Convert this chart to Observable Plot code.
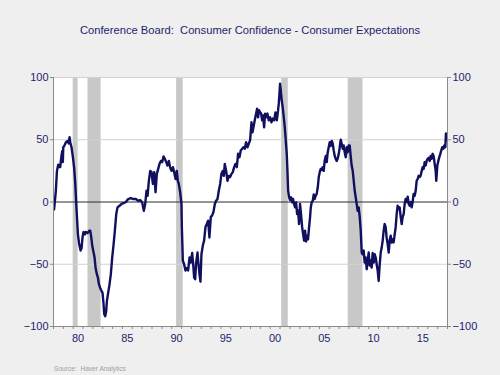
<!DOCTYPE html>
<html>
<head>
<meta charset="utf-8">
<script src="https://cdn.jsdelivr.net/npm/d3@7"></script>
<script src="https://cdn.jsdelivr.net/npm/@observablehq/plot@0.6"></script>
<style>
  html, body { margin: 0; padding: 0; background: #efefef; }
  #wrap { width: 500px; height: 375px; background: #efefef; font-family: "Liberation Sans", Arial, sans-serif; overflow: hidden; }
  #title { height: 60px; line-height: 60px; text-align: center; font-size: 11.2px; color: #1e1e6e; white-space: pre; }
  #chart { height: 295px; }
  #src { height: 20px; line-height: 28px; padding-left: 54px; font-size: 6.6px; color: #a0a0a0; white-space: pre; }
</style>
</head>
<body>
<div id="wrap">
  <div id="title">Conference Board:  Consumer Confidence - Consumer Expectations</div>
  <div id="chart"></div>
  <div id="src">Source:  Haver Analytics</div>
</div>
<script>
// Monthly series (decimal years)
const years = [
  1978.06,1978.24,1978.35,1978.48,1978.58,1978.68,1978.79,1978.89,1978.95,1978.99,
  1979.09,1979.26,1979.43,1979.55,1979.63,1979.70,1979.83,1979.97,1980.10,1980.21,
  1980.31,1980.38,1980.48,1980.61,1980.75,1980.85,1980.95,1981.05,1981.19,1981.29,
  1981.46,1981.63,1981.73,1981.83,1981.93,1982.07,1982.17,1982.27,1982.40,1982.51,
  1982.61,1982.74,1982.88,1982.98,1983.08,1983.15,1983.25,1983.35,1983.42,1983.55,
  1983.69,1983.82,1983.96,1984.10,1984.23,1984.37,1984.50,1984.70,1984.91,1985.11,
  1985.35,1985.58,1985.85,1986.12,1986.36,1986.60,1986.80,1987.00,1987.17,1987.31,
  1987.44,1987.55,1987.68,1987.82,1987.95,1988.09,1988.22,1988.36,1988.49,1988.63,
  1988.76,1988.90,1989.03,1989.17,1989.30,1989.44,1989.57,1989.71,1989.85,1989.98,
  1990.12,1990.25,1990.39,1990.52,1990.62,1990.72,1990.86,1990.99,
  1991.03,1991.13,1991.26,1991.40,1991.54,1991.67,1991.81,1991.94,1992.08,1992.18,
  1992.28,1992.38,1992.48,1992.62,1992.72,1992.82,1992.92,1993.02,1993.16,1993.29,
  1993.43,1993.56,1993.70,1993.83,1993.97,1994.10,1994.24,1994.38,1994.51,1994.65,
  1994.78,1994.92,1995.05,1995.19,1995.29,1995.39,1995.53,1995.66,1995.80,1995.93,
  1996.07,1996.20,1996.34,1996.47,1996.61,1996.74,1996.88,1997.01,1997.15,1997.28,
  1997.42,1997.55,1997.69,1997.82,1997.96,1998.10,1998.20,1998.30,1998.43,1998.57,
  1998.67,1998.77,1998.87,1998.97,1999.08,1999.18,1999.28,1999.38,1999.48,1999.58,
  1999.72,1999.85,1999.99,2000.12,2000.26,2000.40,2000.53,2000.67,2000.80,2000.87,
  2000.94,2001.00,2001.07,2001.17,2001.27,2001.38,2001.48,2001.58,2001.68,2001.75,
  2001.82,2001.92,2002.02,2002.12,2002.22,2002.32,2002.42,2002.53,2002.63,2002.73,
  2002.83,2002.93,2003.03,2003.13,2003.24,2003.34,2003.44,2003.54,2003.64,2003.74,
  2003.84,2003.95,2004.05,
  2004.12,2004.22,2004.32,2004.42,2004.52,2004.62,2004.72,2004.83,2004.93,2005.03,
  2005.13,2005.23,2005.33,2005.43,2005.53,2005.64,2005.74,2005.84,2005.94,2006.04,
  2006.14,2006.25,2006.35,2006.45,2006.55,2006.65,2006.75,2006.85,2006.96,2007.06,
  2007.16,2007.26,2007.36,2007.46,2007.56,2007.67,2007.77,2007.87,2007.97,2008.07,
  2008.17,2008.27,2008.38,2008.48,2008.58,2008.68,2008.78,2008.88,2008.98,2009.09,
  2009.19,2009.29,2009.39,2009.49,2009.59,2009.69,2009.80,2009.90,2010.00,2010.10,
  2010.20,2010.30,2010.40,2010.51,2010.61,2010.71,2010.81,2010.91,2011.01,2011.12,
  2011.22,2011.32,2011.42,2011.52,2011.62,2011.72,2011.82,2011.93,2012.03,2012.13,
  2012.23,2012.33,2012.43,2012.53,2012.64,2012.74,2012.84,2012.94,2013.04,2013.14,
  2013.25,2013.35,2013.45,2013.55,2013.65,2013.75,2013.85,2013.96,2014.06,2014.16,
  2014.26,2014.36,2014.46,2014.56,2014.67,2014.77,2014.87,2014.97,2015.07,2015.17,
  2015.27,2015.38,2015.48,2015.58,2015.68,2015.78,2015.88,2015.98,2016.09,2016.19,
  2016.29,2016.39,2016.49,2016.59,2016.70,2016.80,2016.86,2016.97,2017.07,2017.17,
  2017.27,2017.37,2017.47,2017.57,2017.68,2017.78,2017.84,2017.91
];
const values = [
  -6,9,25,30,28,28,36,41,32,44,
  45,48,49,47,52,48,44,36,27,14.5,
  -1.6,-12,-26,-34,-39,-37,-28,-24,-26,-24,
  -25,-23,-23,-28,-35,-40.6,-44.6,-52.7,-58,-60.8,
  -66,-69,-71.5,-73,-82,-90,-91.7,-87.6,-79.6,-73,
  -66,-58,-44.6,-34,-23,-9.7,-4.3,-3,-1.6,-1,
  0,2.4,3.2,2.4,2.4,1,1.6,-0.3,-7,-1.6,
  9,5,17,25,24,14.5,24,7.8,22.6,26.6,
  30.6,33,32,36.6,34.7,32,29.3,33,27.4,25,
  28,24,18.5,25,17,14.5,7.8,-1.6,
  -20,-47,-50,-55,-53,-55,-44.6,-48.7,-41,-50,
  -60.8,-62,-48.7,-40.6,-50,-58,-64,-42,-35,-31,
  -20,-17.7,-15,-28.5,-12,-11,-8,-1.6,1,2.4,
  9,14.5,22.6,25,21,30.6,25,17,21,20,
  22.6,24,28,30.6,28,38.7,36,41.4,42.7,44,
  42.7,48,44,46.8,49.5,64,56,60,65.6,71,
  75,68,73.7,72,71,65.6,69.6,60,71,68,
  71,65.6,68,64,67,65.6,72,65.6,73.7,79,
  87,95,89.8,81.7,76,68,60,49.5,38.7,25,
  9,3.8,1.6,3.8,-0.3,2.4,-1.6,-4.3,-0.3,-9.7,
  -7,-17.7,-1.6,-9.7,-20,-25.8,-31,-23,-31.7,-27,
  -30,-20,-12,
  -4.3,0,1,6,2.4,5,6.5,11.8,20,24,
  26.6,25.8,28,25,33,37,32,40,44,48,
  45,49,46.8,41.4,37,34.7,33,34.7,38.7,44,
  50,46.8,42.7,45.4,40,36,44,40,45.4,45.4,
  37,29.3,25,17,9,3.8,-1.6,-7,-4.3,-12,
  -23,-40.6,-42,-39,-48.7,-44.6,-54,-47,-40.6,-51,
  -47,-52.7,-41,-48.7,-42,-44.6,-50,-55,-63.4,-50,
  -40.6,-36.6,-31,-23,-17.7,-20,-28.5,-34,-40.6,-31,
  -27,-32.5,-30,-32.5,-26,-20,-9.7,-3,-5.6,-4.3,
  -12,-17.7,-12,-9.7,-1.6,2.4,0,4.3,-1.6,-3,
  0,-4.3,0,6.5,5,9,17,18.5,21,20,
  21,25,28,26.6,32,29.3,33,34.7,35.5,33,
  37,34.7,38.7,37,30.6,25,17,29.3,33,36,
  38.7,41.4,44,42.7,45.4,44,55,49.5
];
// NBER recessions (start / end month)
const recessionStart = ["1980-01","1981-07","1990-07","2001-03","2007-12"];
const recessionEnd   = ["1980-07","1982-11","1991-03","2001-11","2009-06"];
const yTicks = [-100, -50, 0, 50, 100];
const xLabelYears = [1980, 1985, 1990, 1995, 2000, 2005, 2010, 2015];
const xLabels = ["80", "85", "90", "95", "00", "05", "10", "15"];

const dec = s => { const [y, m] = s.split("-").map(Number); return y + (m - 1) / 12; };
const data = years.map((t, i) => ({t, v: values[i]}));
const recs = recessionStart.map((s, i) => ({s: dec(s), e: dec(recessionEnd[i])}));
const x0 = 1978, x1 = 2018;
const textColor = "#1e1e6e";
const axisGray = "#8a8a8a";

const chart = Plot.plot({
  width: 500,
  height: 295,
  marginLeft: 53,
  marginRight: 53,
  marginTop: 17,
  marginBottom: 29,
  x: {domain: [x0, x1], label: null},
  y: {domain: [-100, 100], label: null},
  style: {background: "transparent", fontFamily: "Liberation Sans, Arial, sans-serif", fontSize: "11px"},
  marks: [
    Plot.frame({fill: "white", stroke: "none"}),
    Plot.rect(recs, {x1: "s", x2: "e", fill: "#c8c8c8"}),
    Plot.ruleY([-50, 50, 100], {stroke: "#d2d2d2", strokeWidth: 1}),
    Plot.ruleY([0], {stroke: "#2a2a2a", strokeWidth: 1}),
    Plot.line(data, {x: "t", y: "v", stroke: "#10105e", strokeWidth: 2.4, strokeLinejoin: "round"}),
    Plot.ruleX([x0, x1], {stroke: axisGray, strokeWidth: 1}),
    Plot.ruleY([-100], {stroke: axisGray, strokeWidth: 1}),
    Plot.axisY(yTicks, {anchor: "left", tickSize: 3, tickPadding: 2, stroke: axisGray, fill: textColor, fontSize: 11, label: null}),
    Plot.axisY(yTicks, {anchor: "right", tickSize: 3, tickPadding: 2, stroke: axisGray, fill: textColor, fontSize: 11, label: null}),
    Plot.axisX(d3.range(x0, x1 + 1), {anchor: "bottom", tickSize: 3, tickFormat: () => "", stroke: axisGray, label: null}),
    Plot.axisX(xLabelYears.map(y => y + 0.5), {anchor: "bottom", tickSize: 0, tickPadding: 8,
      tickFormat: d => xLabels[xLabelYears.indexOf(Math.round(d - 0.5))], fill: textColor, fontSize: 11, label: null})
  ]
});
document.getElementById("chart").appendChild(chart);
</script>
</body>
</html>
